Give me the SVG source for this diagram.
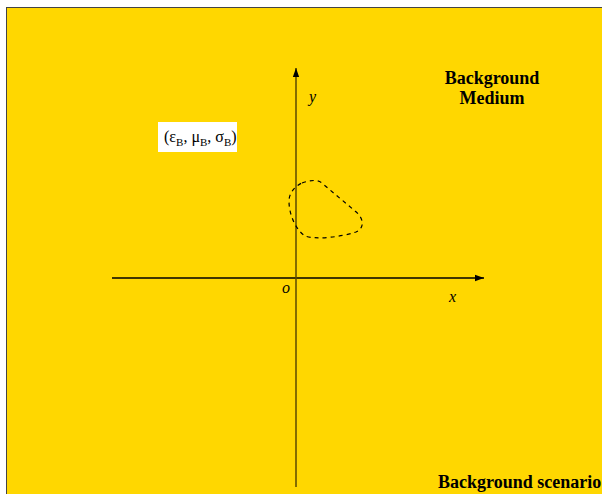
<svg xmlns="http://www.w3.org/2000/svg" width="602" height="494" viewBox="0 0 602 494">
<style>
.ax{font-family:"Liberation Serif",serif;font-style:italic;font-size:16px;fill:#000}
.bold{font-family:"Liberation Serif",serif;font-weight:bold;font-size:18px;fill:#000}
</style>
<defs>
<marker id="ah" viewBox="0 0 10 10" refX="10" refY="5" markerWidth="9" markerHeight="9" markerUnits="userSpaceOnUse" orient="auto">
<path d="M0,1.5 L10,5 L0,8.5 Z" fill="#000"/>
</marker>
</defs>
<rect x="0" y="0" width="602" height="494" fill="#fff"/>
<g id="background">
<rect x="6.5" y="7.5" width="600" height="495" fill="#FFD700" stroke="#444" stroke-width="1"/>
</g>
<g id="connectors">
<line x1="112" y1="278" x2="484" y2="278" stroke="#000" stroke-width="1.5" marker-end="url(#ah)"/>
<line x1="296" y1="487" x2="296" y2="68" stroke="#5a4a00" stroke-width="1.5" marker-end="url(#ah)"/>
</g>
<g id="scatterer">
<path d="M302,183 C311,180 318,179 323,184 L355,211 C364,218 365,228 356,232 C341,237 316,240 305,236 C296,230 289,215 289,201 C289,193 295,186 302,183 Z" fill="none" stroke="#000" stroke-width="1.2" stroke-dasharray="4,4"/>
</g>
<g id="labels">
<text class="ax" x="309" y="102">y</text>
<text class="ax" x="282" y="293">o</text>
<text class="ax" x="449" y="302">x</text>
</g>
<g id="params">
<rect x="158" y="122" width="79" height="30" fill="#fff"/>
<text x="164" y="142" font-family="Liberation Serif,serif" font-size="16" fill="#000">(ε<tspan font-size="11" dy="4">B</tspan><tspan dy="-4">, μ</tspan><tspan font-size="11" dy="4">B</tspan><tspan dy="-4">, σ</tspan><tspan font-size="11" dy="4">B</tspan><tspan dy="-4">)</tspan></text>
</g>
<g id="medium">
<text class="bold" x="492" y="84" text-anchor="middle">Background</text>
<text class="bold" x="492" y="104" text-anchor="middle">Medium</text>
</g>
<g id="scenario">
<text class="bold" x="438" y="488">Background scenario</text>
</g>
</svg>
